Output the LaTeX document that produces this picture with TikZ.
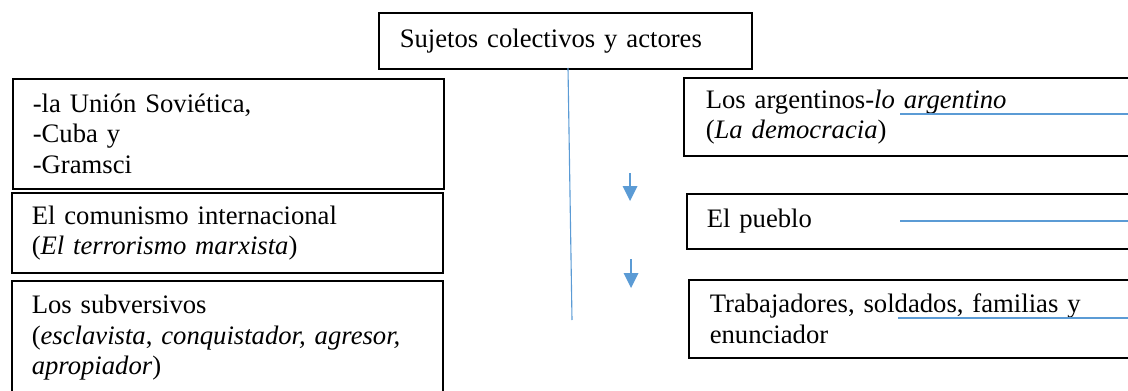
\documentclass[tikz,border=0pt]{standalone}
\usepackage{fontspec}
\setmainfont{Liberation Serif}
\definecolor{lineblue}{RGB}{91,155,213}
\begin{document}
\begin{tikzpicture}[x=0.45pt,y=0.45pt]
\tikzstyle{every node}+=[font=\fontsize{12}{13.6}\selectfont]
\tikzstyle{box}=[draw=black, line width=0.7pt, anchor=north west, align=left, inner ysep=0pt]
\tikzstyle{thinblue}=[lineblue, line width=0.5pt]
\useasboundingbox (0,0) rectangle (1128,-391);
\node [box, text width=148.95pt, inner xsep=9.45pt, minimum height=25.2pt] (actores) at (378,-12) {Sujetos colectivos y actores};
% left column
\node [box, text width=175.95pt, inner xsep=9pt, minimum height=49.5pt] (sovietica) at (12,-78) {-la Unión Soviética,\\-Cuba y\\-Gramsci};
\node [box, text width=175.95pt, inner xsep=9pt, minimum height=36pt] (comunismo) at (11,-192) {El comunismo internacional\\(\textit{El terrorismo marxista})};
\node [box, text width=175.95pt, inner xsep=9pt, minimum height=51.3pt] (subversivos) at (11,-280) {Los subversivos\\(\textit{esclavista}, \textit{conquistador, agresor,}\\\textit{apropiador})};
% right column
\node [box, text width=185.85pt, inner xsep=9.9pt, minimum height=35.1pt] (argentinos) at (683,-77) {Los argentinos-\textit{lo argentino}\\(\textit{La democracia})};
\node [box, text width=187.65pt, inner xsep=9pt, minimum height=24.75pt] (pueblo) at (686,-193) {El pueblo};
\node [box, text width=186.75pt, inner xsep=9.45pt, minimum height=35.1pt] (trabajadores) at (688,-279) {Trabajadores, soldados, familias y\\enunciador};
% blue lines
\coordinate (stem) at (568,-68);
\coordinate (stemend) at (572,-320);
\draw [thinblue] (stem) -- (stemend);
\coordinate (u1) at (900,-114);
\coordinate (u1end) at (1128,-114);
\draw [thinblue] (u1) -- (u1end);
\coordinate (u2) at (900,-221);
\coordinate (u2end) at (1128,-221);
\draw [thinblue] (u2) -- (u2end);
\coordinate (u3) at (898,-318);
\coordinate (u3end) at (1128,-318);
\draw [thinblue] (u3) -- (u3end);
% arrows
\coordinate (a1) at (630,-173);
\coordinate (a1tip) at (630,-201);
\draw [lineblue, line width=1pt] (a1) -- ([yshift=5pt]a1tip);
\fill [lineblue] (a1tip) -- ++(-7.5,15) -- ++(15,0) -- cycle;
\coordinate (a2) at (631,-259);
\coordinate (a2tip) at (631,-288);
\draw [lineblue, line width=1pt] (a2) -- ([yshift=5pt]a2tip);
\fill [lineblue] (a2tip) -- ++(-7.5,15) -- ++(15,0) -- cycle;
\end{tikzpicture}
\end{document}
